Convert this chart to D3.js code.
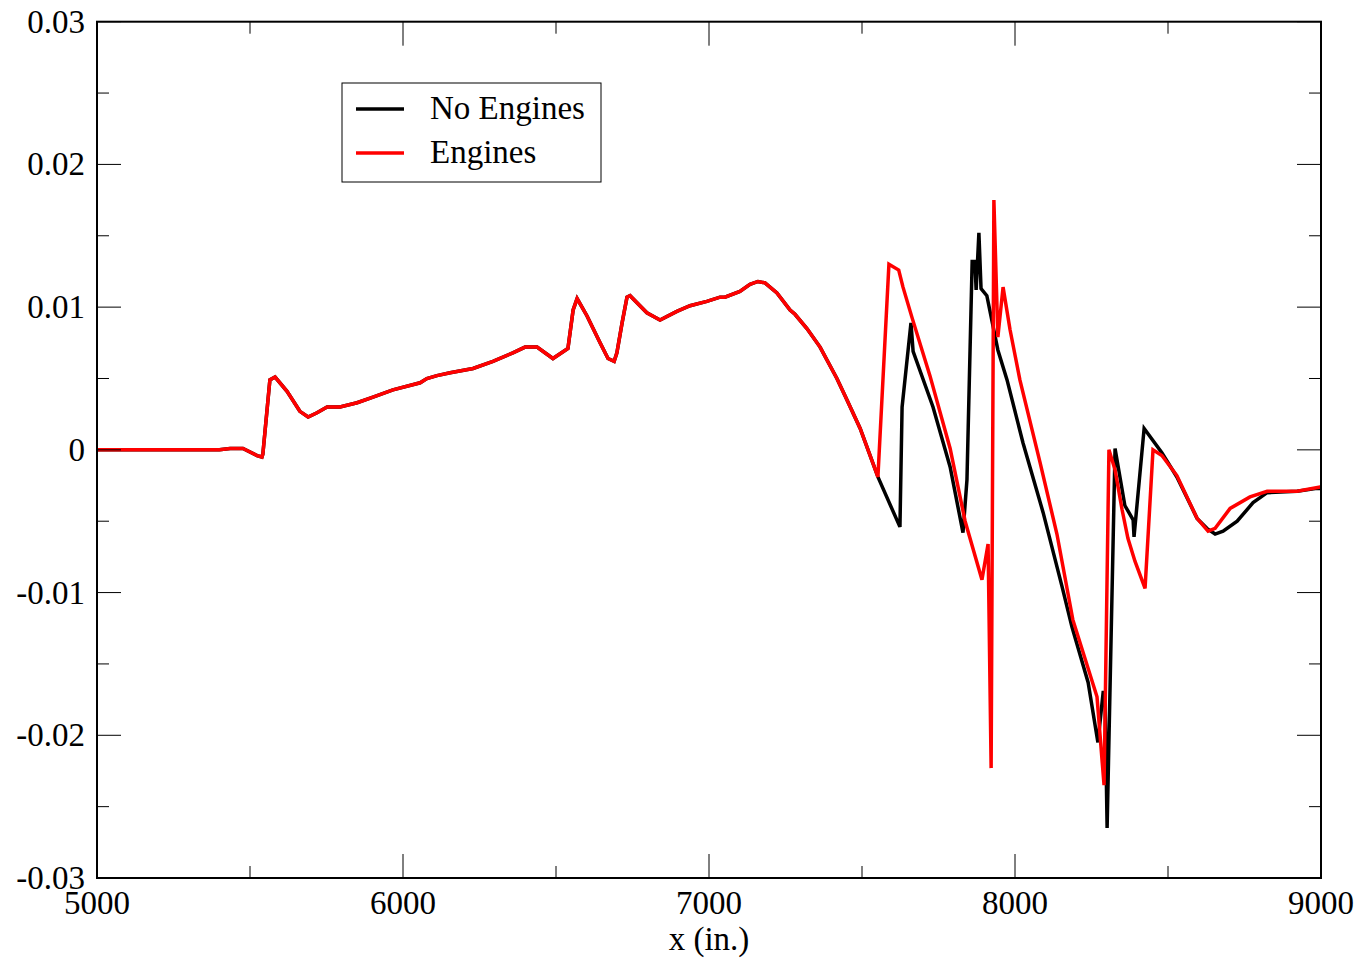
<!DOCTYPE html>
<html><head><meta charset="utf-8">
<script src="https://cdn.jsdelivr.net/npm/d3@7/dist/d3.min.js"></script>
<style>body{margin:0;background:#fff}svg{display:block}</style>
</head><body>
<svg id="c" width="1360" height="958"></svg>
<script>
// Shared portion (both series coincide)
const commonX = [5000,5100,5200,5300,5400,5435,5477,5523,5539,5542,5565,5582,5621,5663,5690,5719,5752,5794,5850,5902,5967,6056,6078,6111,6154,6229,6294,6359,6399,6438,6490,6539,6556,6569,6601,6644,6670,6690,6699,6716,6732,6742,6797,6840,6895,6938,6993,7036,7052,7101,7134,7160,7183,7222,7265,7281,7320,7363,7418,7451,7494,7552];
const commonY = [0,0,0,0,0,0.0001,0.0001,-0.0004,-0.0005,-0.0003,0.0049,0.0051,0.0041,0.0027,0.0023,0.0026,0.0030,0.0030,0.0033,0.0037,0.0042,0.0047,0.0050,0.0052,0.0054,0.0057,0.0062,0.0068,0.0072,0.0072,0.0064,0.0071,0.0098,0.0106,0.0094,0.0075,0.0064,0.0062,0.0068,0.0089,0.0107,0.0108,0.0096,0.0091,0.0097,0.0101,0.0104,0.0107,0.0107,0.0111,0.0116,0.0118,0.0117,0.0110,0.0098,0.0095,0.0085,0.0072,0.0050,0.0035,0.0015,-0.0019];
// No Engines tail
const noEngX = [7624,7631,7660,7667,7732,7788,7830,7843,7860,7869,7873,7882,7889,7908,7944,7974,8026,8092,8154,8186,8239,8271,8288,8294,8301,8327,8359,8386,8389,8422,8480,8529,8595,8627,8654,8680,8726,8778,8824,8922,8987,9000];
const noEngY = [-0.0054,0.0030,0.0089,0.0069,0.0030,-0.0012,-0.0058,-0.0021,0.0132,0.0132,0.0112,0.0152,0.0113,0.0108,0.0070,0.0049,0.0005,-0.0044,-0.0096,-0.0124,-0.0163,-0.0205,-0.0170,-0.0170,-0.0265,0.0001,-0.0039,-0.0049,-0.0061,0.0015,-0.0002,-0.0019,-0.0048,-0.0055,-0.0059,-0.0057,-0.0050,-0.0037,-0.0030,-0.0029,-0.0027,-0.0027];
// Engines tail
const engX = [7588,7620,7634,7663,7722,7788,7837,7892,7912,7922,7931,7944,7961,7984,8016,8082,8137,8189,8268,8291,8307,8327,8350,8369,8392,8425,8451,8480,8529,8595,8631,8654,8703,8768,8824,8922,8997,9000];
const engY = [0.0130,0.0126,0.0114,0.0093,0.0052,0.0001,-0.0050,-0.0091,-0.0066,-0.0223,0.0175,0.0079,0.0114,0.0084,0.0049,-0.0009,-0.0059,-0.0119,-0.0173,-0.0235,0.0000,-0.0014,-0.0042,-0.0062,-0.0078,-0.0097,0.0000,-0.0004,-0.0018,-0.0048,-0.0057,-0.0055,-0.0041,-0.0033,-0.0029,-0.0029,-0.0026,-0.0026];

const xTicks = [5000,6000,7000,8000,9000];
const xMinor = [5500,6500,7500,8500];
const yTicks = [-0.03,-0.02,-0.01,0,0.01,0.02,0.03];
const yMinor = [-0.025,-0.015,-0.005,0.005,0.015,0.025];
const yLabels = ["-0.03","-0.02","-0.01","0","0.01","0.02","0.03"];
const seriesNames = ["No Engines","Engines"];
const seriesColors = ["#000000","#ff0000"];

const L=97,R=1321,T=21.7,B=878;
const x=d3.scaleLinear().domain([5000,9000]).range([L,R]);
const y=d3.scaleLinear().domain([-0.03,0.03]).range([B,T]);
const svg=d3.select("#c");
const font="'Liberation Serif','Times New Roman',serif";

const mk=(xs,ys)=>xs.map((v,i)=>[v,ys[i]]);
const series=[mk(commonX.concat(noEngX),commonY.concat(noEngY)), mk(commonX.concat(engX),commonY.concat(engY))];
const line=d3.line().x(d=>x(d[0])).y(d=>y(d[1]));
const plot=svg.append("g");
plot.append("clipPath").attr("id","clip").append("rect").attr("x",L).attr("y",T).attr("width",R-L).attr("height",B-T);
series.forEach((s,i)=>{
  plot.append("path").datum(s).attr("d",line).attr("fill","none")
   .attr("stroke",seriesColors[i]).attr("stroke-width",3.5).attr("stroke-linejoin","miter").attr("stroke-miterlimit",3)
   .attr("clip-path","url(#clip)");
});

// axes with inward ticks on all sides
const ax=svg.append("g").attr("stroke","#000").attr("stroke-width",1);
xTicks.forEach(t=>{ax.append("line").attr("x1",x(t)).attr("x2",x(t)).attr("y1",B).attr("y2",B-24);
  ax.append("line").attr("x1",x(t)).attr("x2",x(t)).attr("y1",T).attr("y2",T+24);});
xMinor.forEach(t=>{ax.append("line").attr("x1",x(t)).attr("x2",x(t)).attr("y1",B).attr("y2",B-12);
  ax.append("line").attr("x1",x(t)).attr("x2",x(t)).attr("y1",T).attr("y2",T+12);});
yTicks.forEach(t=>{ax.append("line").attr("y1",y(t)).attr("y2",y(t)).attr("x1",L).attr("x2",L+24);
  ax.append("line").attr("y1",y(t)).attr("y2",y(t)).attr("x1",R).attr("x2",R-24);});
yMinor.forEach(t=>{ax.append("line").attr("y1",y(t)).attr("y2",y(t)).attr("x1",L).attr("x2",L+12);
  ax.append("line").attr("y1",y(t)).attr("y2",y(t)).attr("x1",R).attr("x2",R-12);});
svg.append("rect").attr("x",L).attr("y",T).attr("width",R-L).attr("height",B-T).attr("fill","none").attr("stroke","#000").attr("stroke-width",2);

const tl=svg.append("g").attr("font-family",font).attr("font-size",33).attr("fill","#000");
xTicks.forEach(t=>tl.append("text").attr("x",x(t)).attr("y",914).attr("text-anchor","middle").text(String(t)));
yTicks.forEach((t,i)=>tl.append("text").attr("x",85).attr("y",y(t)+11).attr("text-anchor","end").text(yLabels[i]));
tl.append("text").attr("x",(L+R)/2).attr("y",950).attr("text-anchor","middle").text("x (in.)");

// legend
const lg=svg.append("g");
lg.append("rect").attr("x",342).attr("y",83).attr("width",259).attr("height",99).attr("fill","#fff").attr("stroke","#000").attr("stroke-width",1);
seriesNames.forEach((n,i)=>{
  const yy=109+i*44;
  lg.append("line").attr("x1",356).attr("x2",404).attr("y1",yy).attr("y2",yy).attr("stroke",seriesColors[i]).attr("stroke-width",3.5);
  lg.append("text").attr("x",430).attr("y",yy+10).attr("font-family",font).attr("font-size",33).text(n);
});
</script>
</body></html>
